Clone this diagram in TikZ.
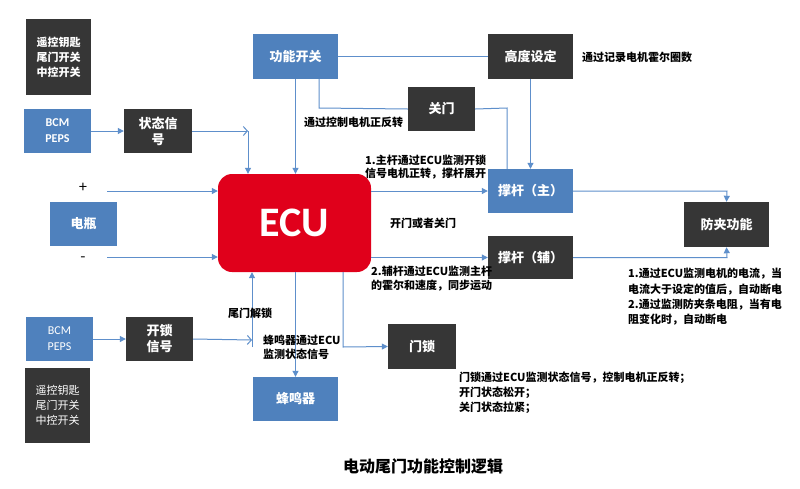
\documentclass[tikz,border=0pt]{standalone}
\usepackage{fontspec}
\setmainfont{Noto Sans CJK SC}
\newfontfamily\calib{Carlito}
\usetikzlibrary{arrows.meta}
\definecolor{bx}{HTML}{4F81BD}
\definecolor{dk}{HTML}{363636}
\definecolor{ln}{HTML}{5E8FCB}
\definecolor{ecured}{HTML}{E0001B}
\begin{document}
\begin{tikzpicture}[x=1pt,y=-1pt,
  boxbase/.style={text=white, inner sep=0, align=center, font=\fontsize{13}{15}\selectfont\bfseries},
  bluebox/.style={boxbase, fill=bx},
  darkbox/.style={boxbase, fill=dk},
  conn/.style={draw=ln, line width=1pt},
  arr/.style={conn, -{Triangle[length=6pt,width=6pt]}},
  barb/.style={conn, -{Straight Barb[length=4pt,width=9pt]}},
  note/.style={inner sep=0, anchor=west, align=left, font=\fontsize{11}{14.5}\selectfont\bfseries}
]
\fill[white] (0,0) rectangle (800,488);
\useasboundingbox (0,0) rectangle (800,488);

% boxes
\node[darkbox, font=\fontsize{11}{15}\selectfont\bfseries, minimum width=65pt, minimum height=76pt] (remA) at (58.5,57) {遥控钥匙\\尾门开关\\中控开关};
\node[bluebox, minimum width=67pt, minimum height=44pt, font=\calib\fontsize{12}{16}\selectfont\bfseries] (bcmA) at (57.5,131) {BCM\\PEPS};
\node[darkbox, minimum width=68pt, minimum height=44pt, font=\fontsize{13}{16}\selectfont\bfseries] (state) at (158,131) {状态信\\号};
\node[bluebox, minimum width=85pt, minimum height=45pt] (func) at (295.5,56.5) {功能开关};
\node[darkbox, minimum width=85pt, minimum height=45pt] (hgt) at (530.5,56.5) {高度设定};
\node[darkbox, minimum width=67pt, minimum height=44pt] (close) at (441.5,109) {关门};
\node[fill=ecured, rounded corners=14pt, minimum width=153pt, minimum height=98pt, text=white, font=\calib\fontsize{42}{42}\selectfont\bfseries] (ecu) at (294.5,223) {ECU};
\node[bluebox, minimum width=67pt, minimum height=44pt] (bat) at (83.5,224) {电瓶};
\node[bluebox, minimum width=85pt, minimum height=44pt] (strM) at (530.5,191) {撑杆（主）};
\node[darkbox, minimum width=85pt, minimum height=43pt] (strA) at (530.5,257.5) {撑杆（辅）};
\node[darkbox, minimum width=85pt, minimum height=45pt] (anti) at (726.5,224.5) {防夹功能};
\node[bluebox, minimum width=67pt, minimum height=44pt, font=\calib\fontsize{12}{16}\selectfont] (bcmB) at (59.5,339) {BCM\\PEPS};
\node[darkbox, minimum width=67pt, minimum height=44pt, font=\fontsize{13}{16}\selectfont\bfseries] (unlock) at (159.5,339) {开锁\\信号};
\node[darkbox, minimum width=65pt, minimum height=75pt, font=\fontsize{11}{15}\selectfont] (remB) at (57.5,405.5) {遥控钥匙\\尾门开关\\中控开关};
\node[bluebox, minimum width=85pt, minimum height=44pt] (buzz) at (295.5,399) {蜂鸣器};
\node[darkbox, minimum width=68pt, minimum height=45pt] (lock) at (422,346.5) {门锁};

% plus / minus
\node[font=\fontsize{15}{15}\selectfont, inner sep=0] (plus) at (83,188) {+};
\node[font=\fontsize{15}{15}\selectfont, inner sep=0] (minus) at (83,259) {-};
\coordinate (pS) at (107,191);
\coordinate (mS) at (107,257);

% corner coordinates
\coordinate (c1) at (248,131);
\coordinate (c2) at (252,340);
\coordinate (c2b) at (252,347);
\coordinate (fk) at (319,108);
\coordinate (ck) at (507,108);
\coordinate (lk) at (343,347);
\coordinate (amk) at (727,191);
\coordinate (aak) at (727,257.5);

% connectors
\draw[arr] (bcmA) -- (state);
\draw[barb] (state.east) -- (c1);
\draw[arr] (c1) -- (c1 |- ecu.north);
\draw[conn] (func.east) -- (hgt.west);
\draw[arr] (func.south) -- (func.south |- ecu.north);
\draw[conn] (fk |- func.south) -- (fk) -- (close.west);
\draw[conn] (close.east) -- (ck) -- (ck |- strM.north);
\draw[arr] (hgt.south) -- (strM.north);
\draw[arr] (pS) -- (pS -| ecu.west);
\draw[arr] (mS) -- (mS -| ecu.west);
\draw[arr] (ecu.east |- strM.west) -- (strM.west);
\draw[arr] (ecu.east |- strA.west) -- (strA.west);
\draw[arr] (strM.east) -- (amk) -- (anti.north);
\draw[arr] (strA.east) -- (aak) -- (anti.south);
\draw[arr] (bcmB) -- (unlock);
\draw[barb] (unlock.east) -- (c2);
\draw[arr] (c2b) -- (c2b |- ecu.south);
\draw[arr] (func.south |- ecu.south) -- (buzz.north);
\draw[arr] (lk |- ecu.south) -- (lk) -- (lock.west);

% notes
\node[note] (n1) at (304,122) {通过控制电机正反转};
\node[note] (n2) at (582,57) {通过记录电机霍尔圈数};
\node[note, font=\fontsize{11}{13}\selectfont\bfseries] (n3) at (365,167.5) {1.主杆通过ECU监测开锁\\信号电机正转，撑杆展开};
\node[note] (n4) at (390,223) {开门或者关门};
\node[note] (n5) at (371,278.5) {2.辅杆通过ECU监测主杆\\的霍尔和速度，同步运动};
\node[note, font=\fontsize{11}{15.3}\selectfont\bfseries] (n6) at (628,297) {1.通过ECU监测电机的电流，当\\电流大于设定的值后，自动断电\\2.通过监测防夹条电阻，当有电\\阻变化时，自动断电};
\node[note] (n7) at (228,313) {尾门解锁};
\node[note] (n8) at (263,347.5) {蜂鸣器通过ECU\\监测状态信号};
\node[note, font=\fontsize{11}{15}\selectfont\bfseries] (n9) at (459,393) {门锁通过ECU监测状态信号，控制电机正反转；\\开门状态松开；\\关门状态拉紧；};
\node[inner sep=0, font=\fontsize{16}{16}\selectfont\bfseries] (title) at (423,466) {电动尾门功能控制逻辑};
\end{tikzpicture}
\end{document}
